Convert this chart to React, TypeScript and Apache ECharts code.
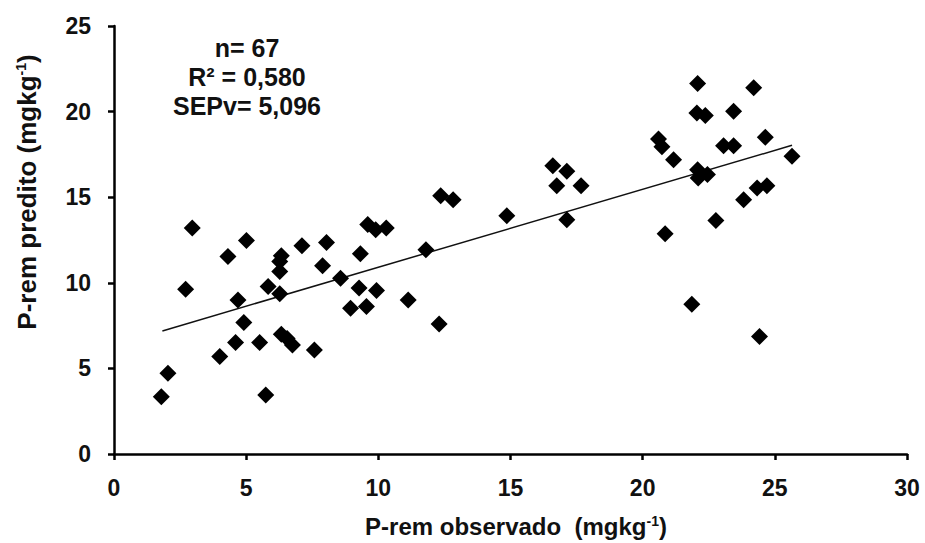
import React, { useEffect, useRef } from "react";
import * as echarts from "echarts";

// Observed P-rem (x) and predicted P-rem (y), mg kg-1
const observed = [
  1.79, 2.04, 2.71, 2.96, 4.0, 4.31, 4.6, 4.69, 4.91, 5.01,
  5.51, 5.74, 5.83, 6.33, 6.27, 6.27, 6.27, 6.33, 6.55, 6.75,
  7.11, 7.58, 7.89, 8.04, 8.57, 8.95, 9.27, 9.32, 9.55, 9.93,
  9.6, 9.9, 10.3, 11.13, 11.8, 12.36, 12.83, 12.3, 14.86, 16.6,
  17.13, 16.75, 17.67, 17.13, 22.08, 24.2, 22.05, 22.37, 23.44, 20.6,
  20.73, 21.17, 23.06, 23.44, 24.64, 25.65, 22.08, 22.1, 22.45, 24.33,
  24.7, 23.82, 22.77, 20.85, 21.86, 24.42,
];
const predicted = [
  3.35, 4.72, 9.63, 13.2, 5.69, 11.54, 6.51, 9.0, 7.68, 12.47,
  6.51, 3.45, 9.78, 11.58, 11.25, 10.66, 9.36, 7.0, 6.75, 6.37,
  12.16, 6.08, 10.99, 12.36, 10.27, 8.52, 9.69, 11.7, 8.61, 9.55,
  13.4, 13.1, 13.2, 9.0, 11.93, 15.09, 14.85, 7.6, 13.92, 16.84,
  16.51, 15.67, 15.67, 13.68, 21.64, 21.39, 19.92, 19.77, 20.02, 18.4,
  17.94, 17.19, 18.01, 18.01, 18.5, 17.39, 16.61, 16.12, 16.32, 15.54,
  15.67, 14.85, 13.64, 12.87, 8.75, 6.86,
];
// Regression line end points
const fitX = [1.83, 25.65];
const fitY = [7.19, 18.03];

const xTicks = [0, 30, 5];
const yTicks = [0, 25, 5];

const statLines = ["n= 67", "R² = 0,580", "SEPv= 5,096"];
const xTitle = "P-rem observado  (mgkg";
const yTitle = "P-rem predito (mgkg";

const FONT = "'Liberation Sans', Arial, sans-serif";

export default function App() {
  const ref = useRef<HTMLDivElement>(null);
  useEffect(() => {
    if (!ref.current) return;
    const chart = echarts.init(ref.current, undefined, { renderer: "svg" });
    const pts = observed.map((x, i) => [x, predicted[i]]);
    const line = fitX.map((x, i) => [x, fitY[i]]);
    const axisLine = { show: true, lineStyle: { color: "#000", width: 2.5 } };
    const axisTick = { show: true, inside: false, length: 6, lineStyle: { color: "#000", width: 2.5 } };
    const labelStyle = { color: "#111", fontSize: 23, fontWeight: "bold" as const, fontFamily: FONT };
    const rich = {
      sup: { fontSize: 14, fontWeight: "bold", fontFamily: FONT, verticalAlign: "top", fill: "#111" },
    };
    chart.setOption({
      animation: false,
      backgroundColor: "#fff",
      grid: { left: 114, right: 18, top: 26, bottom: 89, containLabel: false },
      xAxis: {
        type: "value",
        min: xTicks[0],
        max: xTicks[1],
        interval: xTicks[2],
        axisLine,
        axisTick,
        splitLine: { show: false },
        axisLabel: { ...labelStyle, margin: 22 },
      },
      yAxis: {
        type: "value",
        min: yTicks[0],
        max: yTicks[1],
        interval: yTicks[2],
        axisLine,
        axisTick,
        splitLine: { show: false },
        axisLabel: { ...labelStyle, margin: 23 },
      },
      graphic: [
        ...statLines.map((t, i) => ({
          type: "text",
          x: 247,
          y: 48 + i * 29,
          style: {
            text: t,
            fontSize: 25,
            fontWeight: "bold",
            fontFamily: FONT,
            fill: "#111",
            align: "center",
            verticalAlign: "middle",
          },
        })),
        {
          type: "text",
          x: 516,
          y: 526,
          style: {
            text: xTitle + "{sup|-1})",
            rich,
            fontSize: 24,
            fontWeight: "bold",
            fontFamily: FONT,
            fill: "#111",
            align: "center",
            verticalAlign: "middle",
          },
        },
        {
          type: "text",
          x: 27,
          y: 192,
          rotation: Math.PI / 2,
          style: {
            text: yTitle + "{sup|-1})",
            rich,
            fontSize: 26,
            fontWeight: "bold",
            fontFamily: FONT,
            fill: "#111",
            align: "center",
            verticalAlign: "middle",
          },
        },
      ],
      series: [
        {
          type: "line",
          data: line,
          symbol: "none",
          lineStyle: { color: "#111", width: 1.5 },
          silent: true,
          z: 2,
        },
        {
          type: "scatter",
          data: pts,
          symbol: "diamond",
          symbolSize: 17,
          itemStyle: { color: "#000", opacity: 1 },
          z: 3,
        },
      ],
    });
    return () => chart.dispose();
  }, []);
  return (
    <div
      ref={ref}
      style={{ position: "fixed", left: 0, top: 0, width: 925, height: 543, background: "#fff" }}
    />
  );
}
